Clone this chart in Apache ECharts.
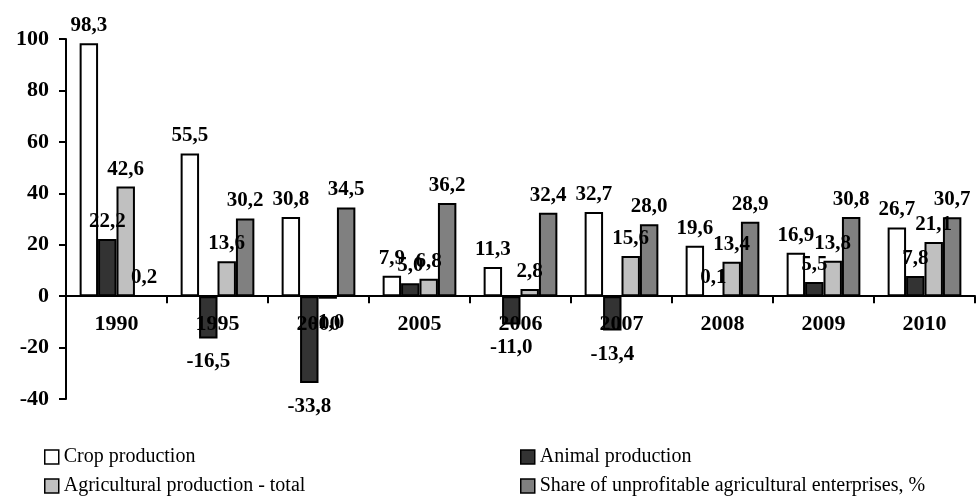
<!DOCTYPE html>
<html>
<head>
<meta charset="utf-8">
<script src="https://cdn.jsdelivr.net/npm/echarts@6/dist/echarts.min.js"></script>
<style>
html,body{margin:0;padding:0;background:#fff;}
#chart{width:977px;height:497px;}
</style>
</head>
<body>
<div id="chart"></div>
<script>
var categories = ['1990','1995','2000','2005','2006','2007','2008','2009','2010'];
var cropProduction = [98.3, 55.5, 30.8, 7.9, 11.3, 32.7, 19.6, 16.9, 26.7];
var animalProduction = [22.2, -16.5, -33.8, 5.0, -11.0, -13.4, 0.1, 5.5, 7.8];
var agriculturalTotal = [42.6, 13.6, -1.0, 6.8, 2.8, 15.6, 13.4, 13.8, 21.1];
var unprofitableShare = [0.2, 30.2, 34.5, 36.2, 32.4, 28.0, 28.9, 30.8, 30.7];
var seriesNames = ['Crop production','Animal production','Agricultural production - total','Share of unprofitable agricultural enterprises, %'];
var seriesColors = ['#ffffff','#333333','#c0c0c0','#808080'];
var yMin = -40, yMax = 100, yInterval = 20;

var FONT = 'Liberation Serif, Times New Roman, serif';
var GRID = {left: 66, right: 2, top: 39, bottom: 98};
var gridHeight = 497 - GRID.top - GRID.bottom;
// distance from grid bottom (y = min) up to the zero line
var zeroOffset = gridHeight * (0 - yMin) / (yMax - yMin);

function items(arr){
  return arr.map(function(v){
    return {value:v, label:{position: v < 0 ? 'bottom' : 'top', distance: v < 0 ? 13 : 7}};
  });
}
function mk(i, arr){
  return {
    name: seriesNames[i],
    type: 'bar',
    data: items(arr),
    barGap: '0%',
    barCategoryGap: '27%',
    itemStyle: {color: seriesColors[i], borderColor:'#000', borderWidth:2},
    label: {
      show: true,
      fontFamily: FONT, fontWeight: 'bold', fontSize: 21, color: '#000',
      formatter: function(p){ return p.value.toFixed(1).replace('.', ','); }
    },
    emphasis: {disabled: true},
    animation: false
  };
}
function legendFor(i, left, top){
  return {
    orient: 'horizontal', left: left, top: top,
    itemWidth: 14, itemHeight: 14, itemGap: 0,
    icon: 'rect',
    itemStyle: {borderColor:'#000', borderWidth: 1.5},
    textStyle: {fontFamily: FONT, fontSize: 20, color:'#000'},
    selectedMode: false,
    data: [seriesNames[i]]
  };
}

var chart = echarts.init(document.getElementById('chart'), null, {renderer:'canvas'});
chart.setOption({
  backgroundColor: '#fff',
  animation: false,
  grid: {left: GRID.left, right: GRID.right, top: GRID.top, bottom: GRID.bottom, containLabel: false},
  legend: [
    legendFor(0, 39, 442),
    legendFor(2, 39, 471),
    legendFor(1, 515, 442),
    legendFor(3, 515, 471)
  ],
  xAxis: {
    type: 'category',
    data: categories,
    position: 'bottom',
    offset: -zeroOffset,
    z: 5,
    axisLine: {onZero: false, lineStyle: {color:'#000', width: 2}},
    axisTick: {show: true, length: 7, lineStyle:{color:'#000', width:2}},
    axisLabel: {fontFamily: FONT, fontWeight:'bold', fontSize: 22, color:'#000', margin: 17}
  },
  yAxis: {
    type: 'value',
    min: yMin, max: yMax, interval: yInterval,
    axisLine: {show: true, lineStyle: {color:'#000', width: 2}},
    axisTick: {show: true, length: 7, lineStyle:{color:'#000', width:2}},
    splitLine: {show: false},
    axisLabel: {fontFamily: FONT, fontWeight:'bold', fontSize: 22, color:'#000', margin: 17}
  },
  series: [
    mk(0, cropProduction),
    mk(1, animalProduction),
    mk(2, agriculturalTotal),
    mk(3, unprofitableShare)
  ]
});
</script>
</body>
</html>
